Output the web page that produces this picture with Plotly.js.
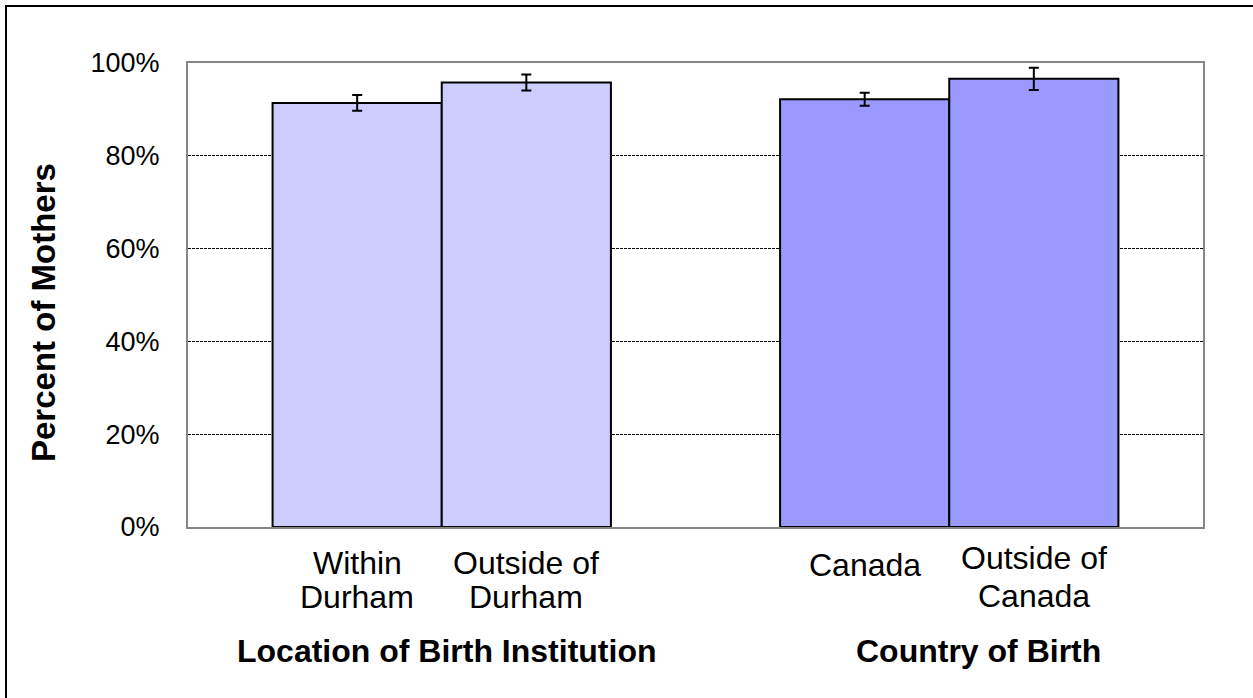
<!DOCTYPE html>
<html>
<head>
<meta charset="utf-8">
<script src="https://cdn.plot.ly/plotly-3.0.1.min.js"></script>
<style>
  html, body { margin: 0; padding: 0; background: #fff; }
  #wrap { position: relative; width: 1253px; height: 698px; overflow: hidden; }
  #chart { position: absolute; left: 0; top: 0; width: 1253px; height: 698px; }
  #frame { position: absolute; left: 5px; top: 5px; width: 1300px; height: 800px;
           border-top: 2px solid #000; border-left: 2px solid #000; pointer-events: none; }
</style>
</head>
<body>
<div id="wrap"><div id="chart"></div><div id="frame"></div></div>
<script>
// Data
const categoryLabels = [["Within", "Durham"], ["Outside of", "Durham"], ["Canada"], ["Outside of", "Canada"]];
const groupTitles = ["Location of Birth Institution", "Country of Birth"];
const barPositions = [1, 2, 4, 5];
const percentValues = [91.4, 95.8, 92.2, 96.6];
const errorValues = [1.7, 1.7, 1.4, 2.4];
const barColors = ["#CCCCFF", "#CCCCFF", "#9999FF", "#9999FF"];
const yTickValues = [0, 20, 40, 60, 80, 100];
const yTickLabels = ["0%", "20%", "40%", "60%", "80%", "100%"];

const FONT = "Liberation Sans, Arial, sans-serif";

const trace = {
  type: "bar",
  x: barPositions,
  y: percentValues,
  width: 1,
  marker: { color: barColors, line: { color: "#000", width: 2 } },
  error_y: { type: "data", array: errorValues, visible: true, color: "#000", thickness: 2, width: 5 },
  hoverinfo: "skip"
};

const annotations = [];
// category labels (multi-line centred per bar)
const labelYOffsets = [[563, 597], [563, 597], [565], [558, 596]];
categoryLabels.forEach((lines, i) => {
  lines.forEach((t, j) => {
    annotations.push({
      text: t, x: barPositions[i], xref: "x",
      y: 1 - (labelYOffsets[i][j] - 63) / 464, yref: "paper",
      yanchor: "middle", xanchor: "center", showarrow: false,
      font: { family: FONT, size: 32, color: "#000" }
    });
  });
});
// group titles
const groupX = [(barPositions[0] + barPositions[1]) / 2, (barPositions[2] + barPositions[3]) / 2];
const groupShift = [5, 29];
groupTitles.forEach((t, i) => {
  annotations.push({
    text: "<b>" + t + "</b>", x: groupX[i], xref: "x", xshift: groupShift[i],
    y: 1 - (651 - 63) / 464, yref: "paper", yanchor: "middle", xanchor: "center",
    showarrow: false, font: { family: FONT, size: 32, color: "#000" }
  });
});
// y-axis title
annotations.push({
  text: "<b>Percent of Mothers</b>", textangle: -90,
  x: (43 - 188) / 1015, xref: "paper", y: 1 - (313 - 63) / 464, yref: "paper",
  xanchor: "center", yanchor: "middle", showarrow: false,
  font: { family: FONT, size: 33, color: "#000" }
});

const layout = {
  width: 1253, height: 698,
  margin: { l: 188, r: 50, t: 63, b: 171, pad: 0 },
  paper_bgcolor: "#fff", plot_bgcolor: "#fff",
  showlegend: false,
  font: { family: FONT, color: "#000" },
  xaxis: {
    range: [0, 6], showticklabels: false, ticks: "", showgrid: false, zeroline: false,
    showline: true, mirror: true, linecolor: "#868686", linewidth: 2, fixedrange: true
  },
  yaxis: {
    range: [0, 100], tickvals: yTickValues, ticktext: yTickLabels, ticks: "",
    showgrid: true, gridcolor: "#000", gridwidth: 1, griddash: "3px,1px",
    zeroline: false, showline: true, mirror: true, linecolor: "#868686", linewidth: 2,
    tickfont: { family: FONT, size: 27, color: "#000" }, ticklabelstandoff: 21, fixedrange: true
  },
  annotations: annotations,
  bargap: 0
};

Plotly.newPlot("chart", [trace], layout, { staticPlot: true, displayModeBar: false });
</script>
</body>
</html>
